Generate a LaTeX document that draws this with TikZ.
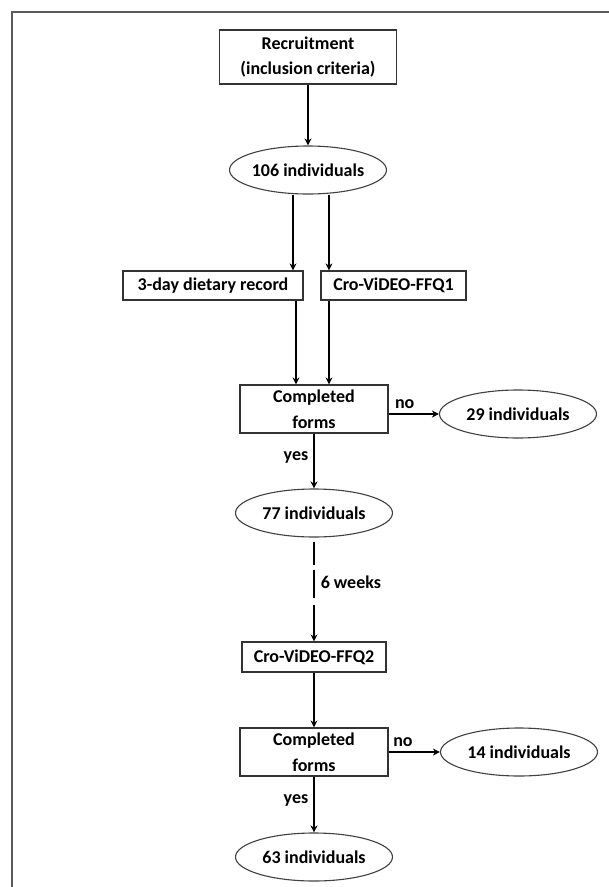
\documentclass[tikz,border=0pt]{standalone}
\usepackage{fontspec}
\setmainfont{Carlito}
\usetikzlibrary{shapes,arrows.meta}

\begin{document}
\begin{tikzpicture} [
                x=1pt, y=-1pt,
                font=\fontsize{18}{25.5}\selectfont\bfseries,
                box/.style = {draw=black!80,line width=1.2pt,align=center,inner sep=0pt},
                group/.style = {ellipse,draw=black!75,line width=1.1pt,inner xsep=-4pt,inner ysep=0pt,
                                minimum width=157pt,minimum height=48pt},
                edge/.style = {draw,line width=1.5pt,-{Stealth[length=7pt,width=7pt]}},
                answer/.style = {inner sep=5pt},
                frame/.style = {draw=black!65,line width=1.4pt}
            ]
            \useasboundingbox (0,0) rectangle (609,887);
        % the frame round the figure
            \draw[frame] (12,887) -- (12,12) -- (609,12);
        % First we draw the boxes
            \foreach \pos/\name/\boxw/\boxh/\txt in {
                {(308,57)/rec/177pt/54pt/{Recruitment\\(inclusion criteria)}},
                {(213,285.5)/diet/180pt/29pt/{3-day dietary record}},
                {(393.5,285.5)/ffqa/145pt/29pt/{Cro-ViDEO-FFQ1}},
                {(314,409)/forma/148pt/48pt/{Completed\\forms}},
                {(314,657)/ffqb/144pt/30pt/{Cro-ViDEO-FFQ2}},
            {(314,752)/formb/148pt/48pt/{Completed\\forms}}}
            \node[box,minimum width=\boxw,minimum height=\boxh] (\name) at \pos {\txt};
        % then the groups of individuals
            \foreach \pos/\name/\txt in {
                {(308,170)/nall/106 individuals},
                {(518,414)/nouta/29 individuals},
                {(314,513)/nkept/77 individuals},
                {(519,752)/noutb/14 individuals},
            {(314,857)/nlast/63 individuals}}
            \node[group] (\name) at \pos {\txt};
        % Connect them with edges and write the answers
            \path[edge] (rec) -- (nall);
            \path[edge] ([xshift=-15pt]nall.south) -- ([xshift=-15pt]nall.south |- diet.north);
            \path[edge] ([xshift=21pt]nall.south) -- ([xshift=21pt]nall.south |- ffqa.north);
            \path[edge] ([xshift=-18pt]forma.north |- diet.south) -- ([xshift=-18pt]forma.north);
            \path[edge] ([xshift=15pt]forma.north |- ffqa.south) -- ([xshift=15pt]forma.north);
            \path[edge] (forma.east |- nouta) -- node[answer,above,pos=0.32] {no} (nouta.west);
            \path[edge] (forma) -- node[answer,left,pos=0.43] {yes} (nkept);
            \path[edge,dash pattern=on 0pt off 4pt on 23pt off 5pt on 28pt off 7pt on 120pt off 1pt]
                (nkept) -- node[answer,right,inner sep=6pt,pos=0.43] {6 weeks} (ffqb);
            \path[edge] (ffqb) -- (formb);
            \path[edge] (formb.east |- noutb) -- node[answer,above,pos=0.28] {no} (noutb.west);
            \path[edge] (formb) -- node[answer,left,pos=0.43] {yes} (nlast);
        \end{tikzpicture}
\end{document}
